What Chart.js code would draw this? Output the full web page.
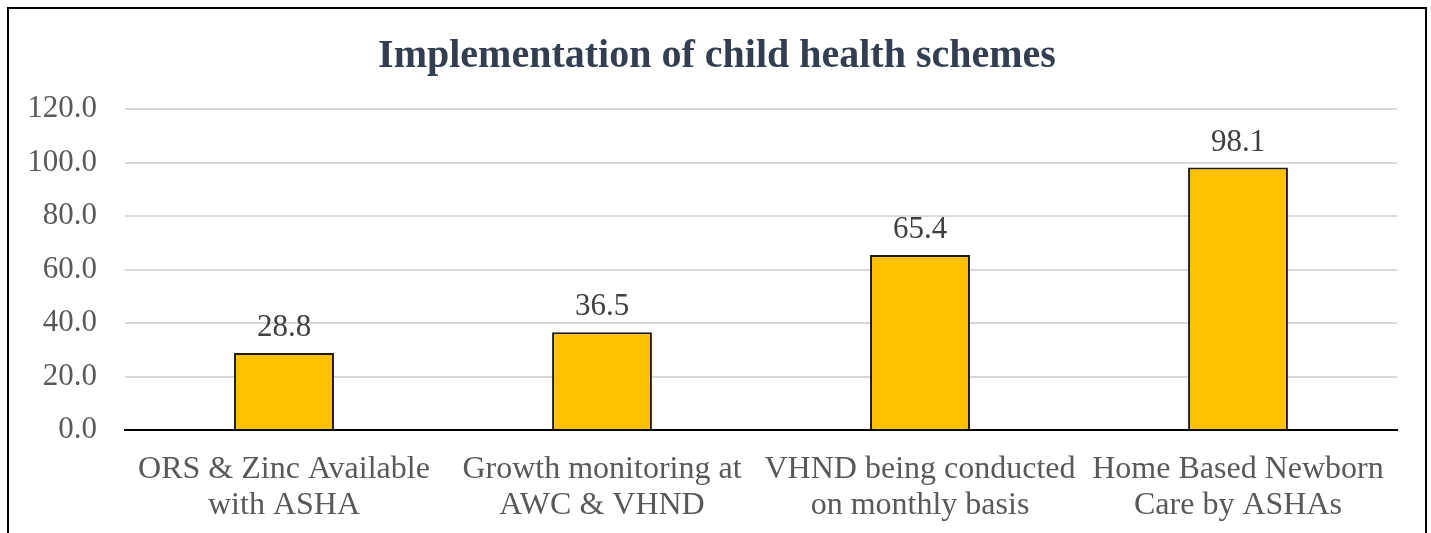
<!DOCTYPE html>
<html>
<head>
<meta charset="utf-8">
<script src="https://cdn.jsdelivr.net/npm/chart.js@4"></script>
<style>
  html, body { margin: 0; padding: 0; background: #fff; overflow: hidden; }
  #frame { position: absolute; left: 7px; top: 7px; width: 1420px; height: 600px; border: 2px solid #000; box-sizing: border-box; }
  #wrap { position: absolute; left: 0; top: 0; width: 1431px; height: 533px; }
</style>
</head>
<body>
<div id="frame"></div>
<div id="wrap"><canvas id="c" width="1431" height="533"></canvas></div>
<script>
const titleText = "Implementation of child health schemes";
const categories = [
  ["ORS & Zinc Available", "with ASHA"],
  ["Growth monitoring at", "AWC & VHND"],
  ["VHND being conducted", "on monthly basis"],
  ["Home Based Newborn", "Care by ASHAs"]
];
const values = [28.8, 36.5, 65.4, 98.1];
const yTicks = [0, 20, 40, 60, 80, 100, 120];

const SERIF = "'Liberation Serif', 'Times New Roman', serif";
const TICK_SIZE = 31;
const CAT_SIZE = 32;

const dataLabels = {
  id: 'dataLabels',
  afterDatasetsDraw(chart) {
    const ctx = chart.ctx;
    const meta = chart.getDatasetMeta(0);
    ctx.save();
    ctx.font = TICK_SIZE + "px " + SERIF;
    ctx.fillStyle = "#404040";
    ctx.textAlign = "center";
    ctx.textBaseline = "alphabetic";
    meta.data.forEach((bar, i) => {
      ctx.fillText(values[i].toFixed(1), bar.x, bar.y - 17);
    });
    ctx.restore();
  }
};

const chartTitle = {
  id: 'chartTitle',
  afterDraw(chart) {
    const ctx = chart.ctx;
    ctx.save();
    ctx.font = "bold 40px " + SERIF;
    ctx.fillStyle = "#333F50";
    ctx.textAlign = "center";
    ctx.textBaseline = "alphabetic";
    ctx.fillText(titleText, 717, 67);
    ctx.restore();
  }
};

new Chart(document.getElementById('c'), {
  type: 'bar',
  data: {
    labels: categories,
    datasets: [{
      data: values,
      backgroundColor: '#FFC000',
      borderColor: '#1a1a1a',
      borderWidth: 2,
      categoryPercentage: 1.0,
      barPercentage: 0.314
    }]
  },
  options: {
    responsive: false,
    animation: false,
    devicePixelRatio: 1,
    layout: { padding: { left: 0, right: 34, top: 109, bottom: 0 } },
    plugins: {
      legend: { display: false },
      tooltip: { enabled: false },
      title: { display: false }
    },
    scales: {
      x: {
        grid: { display: false, drawTicks: false },
        border: { display: true, color: '#000', width: 2 },
        ticks: {
          color: '#595959',
          font: { family: SERIF, size: CAT_SIZE, lineHeight: 1.12 },
          padding: 22,
          maxRotation: 0,
          autoSkip: false
        },
        afterFit(scale) { scale.height = 103; }
      },
      y: {
        min: 0,
        max: 120,
        afterBuildTicks(scale) { scale.ticks = yTicks.map(v => ({ value: v })); },
        grid: { color: '#D9D9D9', lineWidth: 2, drawTicks: false },
        border: { display: false },
        ticks: {
          color: '#595959',
          font: { family: SERIF, size: TICK_SIZE },
          padding: 28,
          callback: v => Number(v).toFixed(1)
        },
        afterFit(scale) { scale.width = 125; }
      }
    }
  },
  plugins: [dataLabels, chartTitle]
});
</script>
</body>
</html>
